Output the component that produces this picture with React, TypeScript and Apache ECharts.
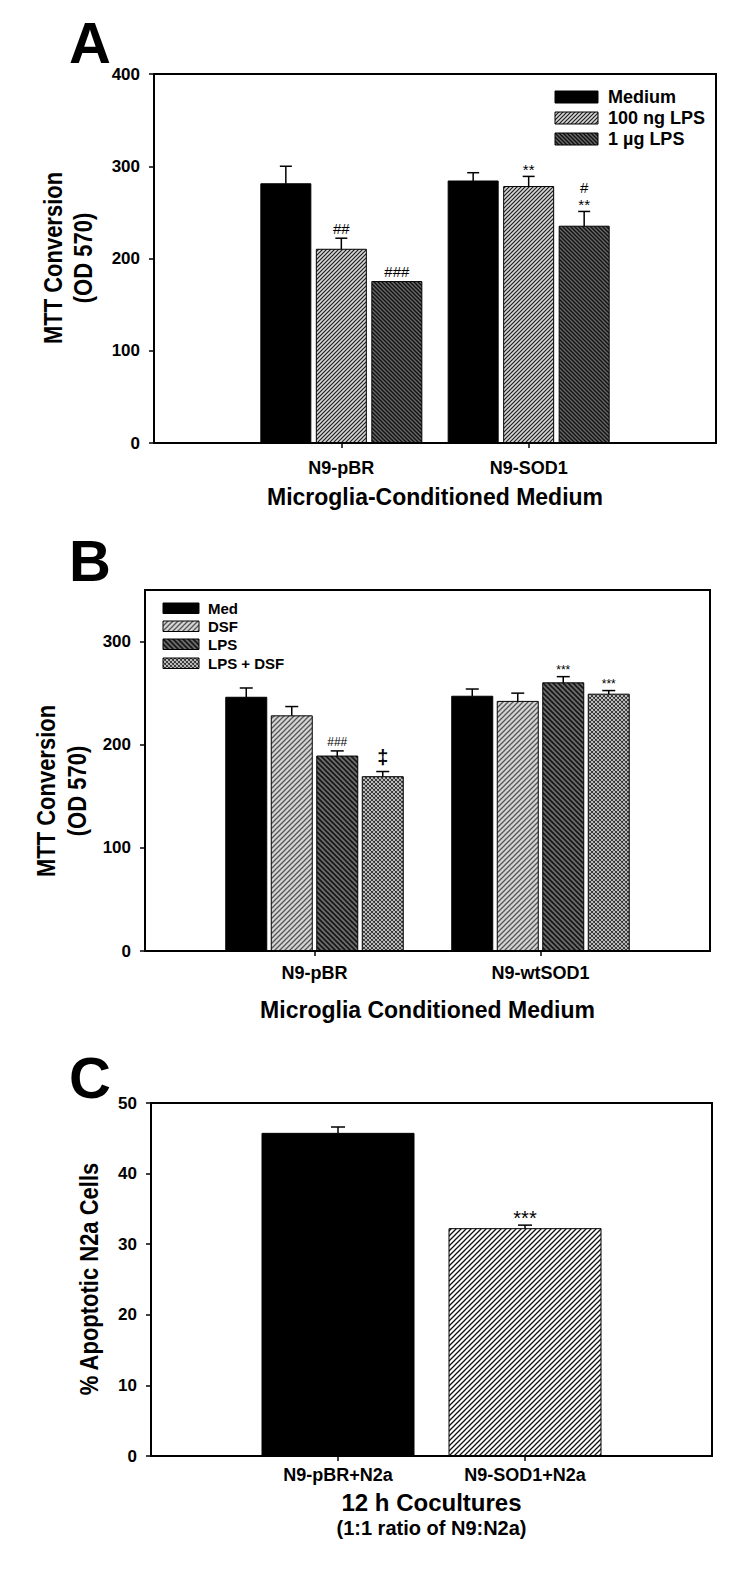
import React, { useEffect, useRef } from 'react';
import * as echarts from 'echarts';

const FONT = "'Liberation Sans', Arial, Helvetica, sans-serif";

// ---------- Panel A ----------
const aGroups = ['N9-pBR', 'N9-SOD1'];
const aSeriesNames = ['Medium', '100 ng LPS', '1 µg LPS'];
const aMedium = [281, 284];
const aMediumErr = [19, 9];
const aLps100 = [210, 278];
const aLps100Err = [12, 11];
const aLps1 = [175, 235];
const aLps1Err = [0, 16];
const aMediumNotes = ['', ''];
const aLps100Notes = ['##', '**'];
const aLps1Notes = ['###', '#\n**'];
const aYTicks = [0, 100, 200, 300, 400];

// ---------- Panel B ----------
const bGroups = ['N9-pBR', 'N9-wtSOD1'];
const bSeriesNames = ['Med', 'DSF', 'LPS', 'LPS + DSF'];
const bMed = [246, 247];
const bMedErr = [9, 7];
const bDsf = [228, 242];
const bDsfErr = [9, 8];
const bLps = [189, 260];
const bLpsErr = [5, 6];
const bLpsDsf = [169, 249];
const bLpsDsfErr = [5, 3.5];
const bMedNotes = ['', ''];
const bDsfNotes = ['', ''];
const bLpsNotes = ['###', '***'];
const bLpsDsfNotes = ['‡', '***'];
const bYTicks = [0, 100, 200, 300];

// ---------- Panel C ----------
const cGroups = ['N9-pBR+N2a', 'N9-SOD1+N2a'];
const cValues = [45.7, 32.2];
const cErr = [0.9, 0.5];
const cNotes = ['', '***'];
const cYTicks = [0, 10, 20, 30, 40, 50];

const groupPos = [1, 2];

function hatch(s: number, dir: string, bg: string, fg: string, lw: number) {
  const fwd = `M0,${s} L${s},0 M-1,1 L1,-1 M${s - 1},${s + 1} L${s + 1},${s - 1}`;
  const back = `M0,0 L${s},${s} M-1,${s - 1} L1,${s + 1} M${s - 1},-1 L${s + 1},1`;
  let d = dir === '/' ? fwd : dir === '\\' ? back : fwd + ' ' + back;
  const svg = `<svg xmlns='http://www.w3.org/2000/svg' width='${s}' height='${s}'><rect width='${s}' height='${s}' fill='${bg}'/><path d='${d}' stroke='${fg}' stroke-width='${lw}' fill='none'/></svg>`;
  return {
    image: 'data:image/svg+xml;charset=utf-8,' + encodeURIComponent(svg),
    repeat: 'repeat',
    imageWidth: s,
    imageHeight: s,
  } as any;
}

const fillBlack = '#000000';
const fillA100 = hatch(4, '/', '#d6d6d6', '#1e1e1e', 1.2);
const fillA1 = hatch(4, '\\', '#6a6a6a', '#111111', 1.5);
const fillBDsf = hatch(5, '/', '#d4d4d4', '#555555', 1.3);
const fillBLps = hatch(5, '\\', '#6c6c6c', '#161616', 1.7);
const fillBLpsDsf = hatch(4, 'x', '#eeeeee', '#333333', 1.1);
const fillCSod = hatch(5, '/', '#ffffff', '#111111', 1.3);

function barSeries(opts: any) {
  const { name, axis, idx, n, values, errs, notes, fills, barW, step, capW, noteFont, noteGap, lineH } = opts;
  return {
    type: 'custom',
    name,
    xAxisIndex: axis,
    yAxisIndex: axis,
    coordinateSystem: 'cartesian2d',
    data: values.map((v: number, i: number) => [groupPos[i], v, errs[i]]),
    encode: { x: 0, y: 1 },
    z: 3,
    renderItem: (params: any, api: any) => {
      const i = params.dataIndex;
      const x = api.value(0);
      const v = api.value(1);
      const e = api.value(2);
      const base = api.coord([x, 0]);
      const top = api.coord([x, v]);
      const et = api.coord([x, v + e]);
      const cx = base[0] + (idx - (n - 1) / 2) * step;
      const fill = Array.isArray(fills) ? fills[i] : fills;
      const children: any[] = [
        {
          type: 'rect',
          shape: { x: cx - barW / 2, y: top[1], width: barW, height: base[1] - top[1] },
          style: { fill, stroke: '#000', lineWidth: 1 },
        },
      ];
      if (e > 0) {
        children.push(
          { type: 'line', shape: { x1: cx, y1: top[1], x2: cx, y2: et[1] }, style: { stroke: '#000', lineWidth: 1.5 } },
          { type: 'line', shape: { x1: cx - capW, y1: et[1], x2: cx + capW, y2: et[1] }, style: { stroke: '#000', lineWidth: 1.5 } }
        );
      }
      const note = notes[i];
      if (note) {
        const lines = note.split('\n').reverse();
        lines.forEach((ln: string, k: number) => {
          const isStar = /^\*+$/.test(ln);
          const isDag = ln === '‡';
          const fs = isDag ? noteFont + 8 : noteFont;
          const gap = isDag ? noteGap + 6 : noteGap;
          children.push({
            type: 'text',
            style: {
              text: ln,
              x: cx,
              y: et[1] - gap - k * lineH + (isStar ? fs * 0.22 : 0),
              align: 'center',
              verticalAlign: 'middle',
              fontSize: fs,
              fontFamily: FONT,
              fontWeight: isDag ? 'bold' : 'normal',
              fill: '#000',
            },
          });
        });
      }
      return { type: 'group', children };
    },
  };
}

function xAxisCfg(grid: number, min: number, max: number, groups: string[], name: any, nameGap: number, labelMargin: number, rich?: any) {
  return {
    type: 'value',
    gridIndex: grid,
    min,
    max,
    z: 10,
    axisLine: { show: true, onZero: false, lineStyle: { color: '#000', width: 2 } },
    axisTick: { show: true, length: 5, customValues: groupPos, lineStyle: { color: '#000', width: 1.5 } },
    axisLabel: {
      customValues: groupPos,
      formatter: (v: number) => groups[Math.round(v) - 1] ?? '',
      color: '#000',
      fontFamily: FONT,
      fontWeight: 'bold',
      fontSize: 18,
      margin: labelMargin,
    },
    splitLine: { show: false },
    name,
    nameLocation: 'middle',
    nameGap,
    nameTextStyle: rich
      ? { rich }
      : { color: '#000', fontFamily: FONT, fontWeight: 'bold', fontSize: 23 },
  };
}

function yAxisCfg(grid: number, max: number, interval: number, ticks: number[]) {
  return {
    type: 'value',
    gridIndex: grid,
    min: 0,
    max,
    interval,
    z: 10,
    axisLine: { show: true, lineStyle: { color: '#000', width: 2 } },
    axisTick: { show: true, length: 5, customValues: ticks, lineStyle: { color: '#000', width: 1.5 } },
    axisLabel: {
      customValues: ticks,
      color: '#000',
      fontFamily: FONT,
      fontWeight: 'bold',
      fontSize: 17,
      margin: 14,
    },
    splitLine: { show: false },
  };
}

function legendItems(x: number, rows: number[], h: number, w: number, fills: any[], names: string[], textX: number, fs: number) {
  const out: any[] = [];
  names.forEach((nm, i) => {
    out.push({
      type: 'rect',
      x,
      y: rows[i],
      shape: { x: 0, y: 0, width: w, height: h },
      style: { fill: fills[i], stroke: '#000', lineWidth: 1 },
      z: 20,
    });
    out.push({
      type: 'text',
      x: textX,
      y: rows[i] + h / 2,
      style: { text: nm, fontFamily: FONT, fontWeight: 'bold', fontSize: fs, fill: '#000', align: 'left', verticalAlign: 'middle' },
      z: 20,
    });
  });
  return out;
}

export default function App() {
  const ref = useRef<HTMLDivElement>(null);
  useEffect(() => {
    if (!ref.current) return;
    const chart = echarts.init(ref.current, null, { renderer: 'svg' });
    const A = { barW: 50, step: 55.5, capW: 6, noteFont: 15, noteGap: 10, lineH: 14, axis: 0, n: 3 };
    const B = { barW: 41, step: 45.5, capW: 6.5, noteFont: 12, noteGap: 9, lineH: 12, axis: 1, n: 4 };
    const C = { barW: 152, step: 0, capW: 7, noteFont: 20, noteGap: 12, lineH: 18, axis: 2, n: 1 };

    const titleStyle = { fontFamily: FONT, fontWeight: 'bold', fill: '#000', align: 'center', verticalAlign: 'middle' };

    const option: any = {
      animation: false,
      backgroundColor: '#ffffff',
      grid: [
        { left: 154, top: 74, width: 562, height: 369, show: true, borderColor: '#000', borderWidth: 2, backgroundColor: 'rgba(0,0,0,0)' },
        { left: 145, top: 590, width: 565, height: 361, show: true, borderColor: '#000', borderWidth: 2, backgroundColor: 'rgba(0,0,0,0)' },
        { left: 151, top: 1103, width: 561, height: 353, show: true, borderColor: '#000', borderWidth: 2, backgroundColor: 'rgba(0,0,0,0)' },
      ],
      xAxis: [
        xAxisCfg(0, 0, 3, aGroups, 'Microglia-Conditioned Medium', 42, 16),
        xAxisCfg(1, 0.25, 2.75, bGroups, 'Microglia Conditioned Medium', 47, 13),
        xAxisCfg(2, 0, 3, cGroups, '{a|12 h Cocultures}\n{b|(1:1 ratio of N9:N2a)}', 33, 10, {
          a: { fontFamily: FONT, fontWeight: 'bold', fontSize: 24, color: '#000', lineHeight: 26, align: 'center' },
          b: { fontFamily: FONT, fontWeight: 'bold', fontSize: 20, color: '#000', lineHeight: 26, align: 'center' },
        }),
      ],
      yAxis: [
        yAxisCfg(0, 400, 100, aYTicks),
        yAxisCfg(1, 350, 50, bYTicks),
        yAxisCfg(2, 50, 10, cYTicks),
      ],
      series: [
        barSeries({ ...A, name: aSeriesNames[0], idx: 0, values: aMedium, errs: aMediumErr, notes: aMediumNotes, fills: fillBlack }),
        barSeries({ ...A, name: aSeriesNames[1], idx: 1, values: aLps100, errs: aLps100Err, notes: aLps100Notes, fills: fillA100 }),
        barSeries({ ...A, name: aSeriesNames[2], idx: 2, values: aLps1, errs: aLps1Err, notes: aLps1Notes, fills: fillA1 }),
        barSeries({ ...B, name: bSeriesNames[0], idx: 0, values: bMed, errs: bMedErr, notes: bMedNotes, fills: fillBlack }),
        barSeries({ ...B, name: bSeriesNames[1], idx: 1, values: bDsf, errs: bDsfErr, notes: bDsfNotes, fills: fillBDsf }),
        barSeries({ ...B, name: bSeriesNames[2], idx: 2, values: bLps, errs: bLpsErr, notes: bLpsNotes, fills: fillBLps }),
        barSeries({ ...B, name: bSeriesNames[3], idx: 3, values: bLpsDsf, errs: bLpsDsfErr, notes: bLpsDsfNotes, fills: fillBLpsDsf }),
        barSeries({ ...C, name: 'Apoptotic', idx: 0, values: cValues, errs: cErr, notes: cNotes, fills: [fillBlack, fillCSod] }),
      ],
      graphic: [
        { type: 'text', x: 69, y: 42, style: { ...titleStyle, text: 'A', fontSize: 58, align: 'left' } },
        { type: 'text', x: 69, y: 560, style: { ...titleStyle, text: 'B', fontSize: 58, align: 'left' } },
        { type: 'text', x: 69, y: 1077, style: { ...titleStyle, text: 'C', fontSize: 58, align: 'left' } },
        { type: 'text', x: 68, y: 258, rotation: Math.PI / 2, scaleY: 1.2, style: { ...titleStyle, text: 'MTT Conversion\n(OD 570)', fontSize: 22, lineHeight: 25 } },
        { type: 'text', x: 61, y: 791, rotation: Math.PI / 2, scaleY: 1.2, style: { ...titleStyle, text: 'MTT Conversion\n(OD 570)', fontSize: 22, lineHeight: 26 } },
        { type: 'text', x: 89, y: 1279, rotation: Math.PI / 2, scaleY: 1.2, style: { ...titleStyle, text: '% Apoptotic N2a Cells', fontSize: 22 } },
        ...legendItems(555, [91, 112, 133], 12, 43, [fillBlack, fillA100, fillA1], aSeriesNames, 608, 18),
        ...legendItems(163, [603, 621, 639, 658], 10.5, 36, [fillBlack, fillBDsf, fillBLps, fillBLpsDsf], bSeriesNames, 208, 15),
      ],
    };
    chart.setOption(option);
    return () => chart.dispose();
  }, []);
  return <div ref={ref} style={{ position: 'absolute', left: 0, top: 0, width: 742, height: 1591 }} />;
}
